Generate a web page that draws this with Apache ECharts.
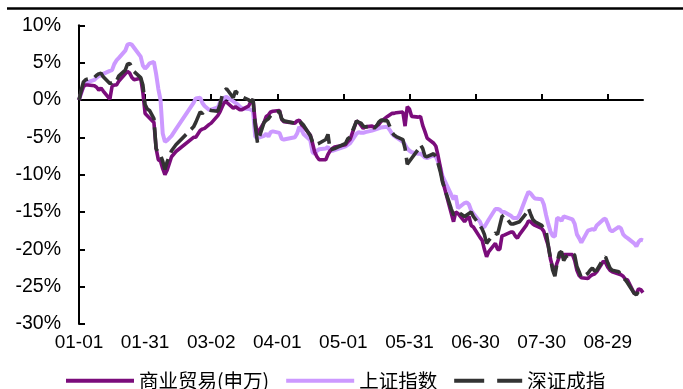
<!DOCTYPE html>
<html>
<head>
<meta charset="utf-8">
<script src="https://cdn.jsdelivr.net/npm/echarts@6/dist/echarts.min.js"></script>
<style>
  html, body { margin: 0; padding: 0; background: #ffffff; }
  #chart { width: 683px; height: 389px; }
</style>
</head>
<body>
<div id="chart"></div>
<script>
// Cumulative change since the end of 2017 (%), sampled on trading days.
const sampleDates = [
  '01-01','01-02','01-03','01-04','01-05','01-08','01-09','01-10','01-11','01-12',
  '01-15','01-16','01-17','01-18','01-19','01-22','01-23','01-24','01-25','01-26',
  '01-29','01-30','01-31','02-01','02-02','02-04','02-05','02-06','02-07','02-08',
  '02-09','02-10','02-12','02-14','02-22','02-23','02-25','02-26','02-27','03-01',
  '03-02','03-05','03-06','03-07','03-08','03-09','03-12','03-13','03-14','03-15',
  '03-16','03-19','03-20','03-21','03-22','03-23','03-26','03-27','03-28','03-29',
  '03-30','04-02','04-03','04-04','04-09','04-10','04-11','04-12','04-13','04-16',
  '04-17','04-18','04-19','04-20','04-23','04-24','04-25','04-26','04-27','05-02',
  '05-03','05-04','05-07','05-08','05-09','05-10','05-11','05-14','05-15','05-16',
  '05-17','05-18','05-21','05-22','05-23','05-24','05-25','05-28','05-29','05-30',
  '05-31','06-01','06-04','06-05','06-06','06-07','06-08','06-11','06-12','06-13',
  '06-14','06-15','06-19','06-20','06-21','06-22','06-25','06-26','06-27','06-28',
  '06-29','07-02','07-03','07-04','07-05','07-06','07-09','07-10','07-11','07-12',
  '07-13','07-16','07-17','07-18','07-19','07-20','07-23','07-24','07-25','07-26',
  '07-27','07-30','07-31','08-01','08-02','08-03','08-04','08-05','08-06','08-07',
  '08-08','08-09','08-10','08-13','08-14','08-15','08-16','08-17','08-20','08-21',
  '08-22','08-23','08-24','08-27','08-28','08-29','08-30','08-31','09-03','09-04',
  '09-05','09-06','09-07','09-10','09-11','09-12','09-13','09-14'
];

// 商业贸易(申万)
const tradeValues = [
  0, 1.0, 1.8, 2.0, 2.0, 1.9, 1.7, 1.3, 1.6, 1.2,
  0.1, 1.8, 2.0, 2.0, 2.5, 3.5, 3.8, 3.6, 3.0, 2.7,
  2.9, 1.0, -1.8, -2.1, -2.4, -3.0, -6.5, -8.0, -8.2, -9.2,
  -10.0, -9.4, -7.6, -6.9, -5.0, -5.0, -4.1, -3.9, -3.8, -3.3,
  -3.1, -2.1, -1.6, -0.9, -0.3, -0.3, -1.1, -0.9, -1.1, -1.3,
  -1.3, -0.8, -0.2, 0.0, -3.0, -4.5, -3.0, -2.2, -2.0, -1.6,
  -1.5, -1.4, -2.6, -2.9, -3.1, -2.8, -2.7, -3.3, -3.6, -4.7,
  -5.8, -7.0, -7.6, -8.0, -8.0, -7.3, -6.8, -6.5, -6.3, -6.0,
  -5.6, -5.3, -2.8, -3.0, -3.4, -3.8, -3.6, -3.5, -3.7, -3.5,
  -3.3, -2.9, -2.2, -2.0, -1.8, -1.8, -1.7, -1.6, -3.5, -0.9,
  -1.2, -2.2, -2.3, -2.2, -3.4, -4.2, -5.1, -5.8, -6.2, -7.5,
  -9.0, -10.8, -15.2, -16.3, -15.0, -15.2, -16.3, -15.9, -15.6, -16.8,
  -17.0, -18.4, -18.8, -20.0, -21.0, -20.3, -19.2, -20.0, -20.0, -18.2,
  -18.1, -17.7, -17.7, -18.2, -18.5, -18.0, -16.8, -16.2, -16.3, -16.6,
  -16.8, -17.2, -17.6, -18.6, -19.5, -21.3, -22.4, -22.8, -21.8, -21.0,
  -20.8, -20.7, -20.7, -20.7, -21.5, -22.8, -23.5, -23.8, -23.9, -23.6,
  -23.4, -23.3, -23.0, -21.6, -21.8, -22.4, -22.8, -23.0, -23.3, -23.4,
  -23.6, -24.0, -24.1, -25.9, -25.9, -25.3, -25.4, -25.8
];

// 上证指数
const shanghaiValues = [
  0, 0.9, 1.8, 2.2, 2.4, 2.7, 3.0, 3.2, 3.3, 3.5,
  3.9, 4.0, 4.8, 5.3, 5.6, 6.6, 7.4, 7.5, 7.4, 7.0,
  5.8, 4.6, 4.2, 4.5, 4.9, 5.1, 3.5, 1.5, 0.0, -4.5,
  -5.6, -5.4, -4.8, -3.9, -0.4, 0.2, 0.3, -0.4, -0.8, -1.3,
  -1.3, -1.0, -0.3, 0.0, 0.3, 0.4, -0.2, -0.4, -0.6, -0.9,
  -1.1, -1.2, -1.3, -1.5, -4.9, -5.1, -4.8, -4.5, -4.9, -4.3,
  -4.2, -4.4, -5.2, -5.3, -5.0, -4.5, -3.6, -4.0, -4.6, -5.4,
  -7.0, -7.2, -6.8, -6.6, -6.5, -6.3, -6.8, -6.8, -6.7, -6.2,
  -6.0, -5.8, -4.5, -4.3, -4.4, -4.4, -4.3, -4.1, -4.0, -3.9,
  -3.8, -3.7, -3.6, -4.0, -4.5, -4.8, -5.0, -5.6, -6.0, -6.5,
  -6.8, -7.0, -7.2, -7.2, -7.4, -7.7, -7.8, -7.4, -7.6, -8.3,
  -9.0, -10.2, -12.7, -13.3, -12.8, -14.5, -13.8, -13.7, -14.0, -14.8,
  -15.2, -16.3, -17.0, -17.0, -16.5, -16.0, -14.6, -14.6, -14.7, -15.0,
  -15.0, -15.5, -15.8, -15.8, -15.8, -15.3, -13.0, -12.3, -12.5, -12.9,
  -13.2, -13.3, -14.0, -15.4, -16.6, -17.6, -18.2, -18.3, -15.8, -15.9,
  -16.2, -15.6, -15.7, -16.0, -16.6, -18.0, -18.5, -19.1, -17.5, -17.4,
  -17.3, -17.4, -16.8, -16.0, -15.9, -16.6, -17.4, -17.6, -17.0, -17.2,
  -18.0, -18.3, -18.5, -19.2, -19.6, -19.0, -18.7, -18.8
];

// 深证成指
const shenzhenValues = [
  0, 1.3, 2.4, 2.7, 2.8, 3.0, 3.3, 3.5, 3.6, 3.1,
  2.2, 2.3, 2.6, 2.5, 3.2, 4.0, 4.8, 4.9, 4.4, 3.8,
  3.0, 2.0, -0.6, -1.2, -1.4, -2.5, -6.5, -7.1, -7.4, -8.2,
  -9.3, -8.3, -6.8, -6.0, -3.6, -3.0, -1.6, -1.8, -1.5, -1.3,
  -1.4, -1.5, -0.6, 0.6, 1.3, 1.5, 0.3, 1.2, 0.9, 0.8,
  0.4, 0.0, -0.2, 0.1, -3.5, -5.7, -3.0, -2.7, -2.5, -2.1,
  -1.8, -1.5, -2.5, -2.8, -3.1, -2.9, -2.8, -3.1, -3.4, -4.8,
  -5.6, -6.0, -5.9, -5.8, -5.3, -4.6, -6.7, -6.6, -6.5, -5.8,
  -5.2, -5.0, -2.8, -3.0, -3.1, -3.5, -3.6, -3.5, -3.8, -3.5,
  -3.0, -2.7, -2.8, -3.5, -4.3, -4.7, -4.9, -5.3, -6.5, -8.6,
  -8.2, -7.8, -6.6, -6.0, -6.5, -7.5, -7.6, -7.2, -7.6, -8.5,
  -9.6, -11.0, -14.6, -15.4, -15.2, -15.0, -15.6, -15.4, -15.2, -15.0,
  -15.6, -16.8, -17.3, -18.0, -19.2, -18.8, -17.8, -18.0, -16.8, -15.6,
  -15.4, -16.6, -16.6, -16.5, -16.4, -16.3, -15.2, -14.5, -15.3, -16.0,
  -16.3, -16.8, -17.2, -17.5, -19.5, -21.2, -22.8, -23.6, -21.8, -20.5,
  -20.3, -21.5, -21.0, -20.5, -20.8, -22.3, -23.0, -23.8, -23.2, -22.8,
  -22.5, -22.9, -22.8, -21.3, -21.0, -21.8, -22.5, -22.8, -23.0, -23.5,
  -23.8, -24.1, -24.5, -25.9, -26.1, -25.6, -25.4, -25.6
];

const seriesNames = ['商业贸易(申万)', '上证指数', '深证成指'];
const seriesColors = ['#7B0C7B', '#CC99FF', '#333333'];

// Calendar axis: every day from 1 Jan to 14 Sep 2018
const axisStart = Date.UTC(2018, 0, 1);
const axisEnd = Date.UTC(2018, 8, 14);
const calendarDays = [];
for (let t = axisStart; t <= axisEnd; t += 86400000) {
  const d = new Date(t);
  calendarDays.push(
    String(d.getUTCMonth() + 1).padStart(2, '0') + '-' + String(d.getUTCDate()).padStart(2, '0')
  );
}

function onCalendar(values) {
  return calendarDays.map(function (day) {
    const i = sampleDates.indexOf(day);
    return i < 0 ? null : values[i];
  });
}

const latinFont = '"Liberation Sans", Arial, "Noto Sans CJK SC", sans-serif';

const chart = echarts.init(document.getElementById('chart'), null, { renderer: 'canvas' });

chart.setOption({
  backgroundColor: '#ffffff',
  animation: false,
  grid: {
    left: 79, right: 40, top: 25.3, bottom: 65,
    containLabel: false,
    outerBoundsMode: 'none'
  },
  graphic: [{
    type: 'line',
    shape: { x1: 7, y1: 8.5, x2: 683, y2: 8.5 },
    style: { stroke: '#000000', lineWidth: 2.5 },
    silent: true
  }],
  legend: {
    left: 59,
    top: 366,
    itemWidth: 68,
    itemHeight: 22,
    itemGap: 15,
    itemStyle: { opacity: 0 },
    lineStyle: { width: 4 },
    textStyle: {
      fontSize: 19.5,
      color: '#000000',
      fontFamily: '"Noto Sans CJK SC", sans-serif'
    },
    data: [
      { name: seriesNames[0] },
      { name: seriesNames[1] },
      { name: seriesNames[2], lineStyle: { type: [30, 13], width: 4 } }
    ]
  },
  xAxis: [
    {
      // the zero line carrying the monthly ticks
      type: 'category',
      data: calendarDays,
      boundaryGap: false,
      axisLine: { onZero: true, lineStyle: { color: '#000000', width: 2 } },
      axisTick: { show: true, inside: true, length: 6, interval: 29, lineStyle: { color: '#000000', width: 2 } },
      axisLabel: { show: false },
      splitLine: { show: false }
    },
    {
      // date labels along the bottom edge
      type: 'category',
      data: calendarDays,
      boundaryGap: false,
      position: 'bottom',
      axisLine: { show: false, onZero: false },
      axisTick: { show: false },
      splitLine: { show: false },
      axisLabel: {
        interval: 29,
        margin: 9,
        fontSize: 19,
        color: '#000000',
        fontFamily: latinFont
      }
    }
  ],
  yAxis: {
    type: 'value',
    min: -30,
    max: 10,
    interval: 5,
    axisLine: { show: true, lineStyle: { color: '#000000', width: 2 } },
    axisTick: { show: true, inside: true, length: 6, lineStyle: { color: '#000000', width: 2 } },
    splitLine: { show: false },
    axisLabel: {
      margin: 18,
      fontSize: 19.5,
      color: '#000000',
      fontFamily: latinFont,
      formatter: function (v) { return v + '%'; }
    }
  },
  series: [
    {
      name: seriesNames[0],
      type: 'line',
      xAxisIndex: 0,
      data: onCalendar(tradeValues),
      connectNulls: true,
      symbol: 'none',
      color: seriesColors[0],
      lineStyle: { color: seriesColors[0], width: 3.6 },
      z: 3
    },
    {
      name: seriesNames[1],
      type: 'line',
      xAxisIndex: 0,
      data: onCalendar(shanghaiValues),
      connectNulls: true,
      symbol: 'none',
      color: seriesColors[1],
      lineStyle: { color: seriesColors[1], width: 4 },
      z: 2
    },
    {
      name: seriesNames[2],
      type: 'line',
      xAxisIndex: 0,
      data: onCalendar(shenzhenValues),
      connectNulls: true,
      symbol: 'none',
      color: seriesColors[2],
      lineStyle: { color: seriesColors[2], width: 3.6, type: [24, 7] },
      z: 4
    }
  ]
});
</script>
</body>
</html>
